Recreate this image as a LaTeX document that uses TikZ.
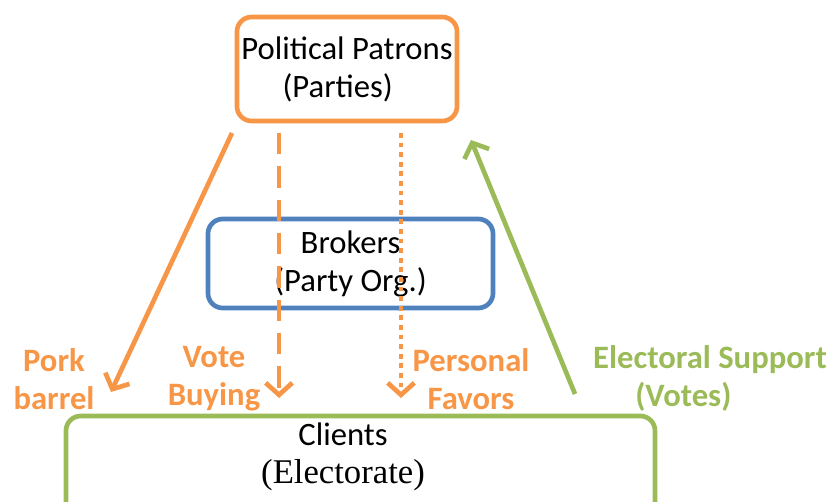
\documentclass[tikz,border=0pt]{standalone}
\usepackage{fontspec}
\setmainfont{Carlito}
\newfontfamily\serifcl{Liberation Serif}
\usetikzlibrary{arrows.meta}
\definecolor{orng}{HTML}{F79646}
\definecolor{blu}{HTML}{4F81BD}
\definecolor{grn}{HTML}{9BBB59}
\tikzset{
  box/.style={draw, line width=3.5pt, rounded corners=11pt, fill=none},
  boxtext/.style={align=center, font=\fontsize{24.5}{28.5}\selectfont, text=black},
  lbl/.style={align=center, font=\fontsize{24.5}{28.5}\selectfont\bfseries},
  arr/.style={line width=3.5pt, -{Straight Barb[length=9pt,width=20pt,line width=3.5pt]}},
}
\begin{document}
\begin{tikzpicture}[x=0.75pt,y=-0.75pt]
\useasboundingbox (0,0) rectangle (832,502);
\clip (0,0) rectangle (832,502);
% boxes
\node[box, draw=orng, minimum width=165pt, minimum height=78pt, boxtext] (patrons) at (347,69) {Political Patrons\\(Parties)\hspace*{14pt}};
\node[box, draw=blu, minimum width=213.75pt, minimum height=66.75pt, boxtext] (brokers) at (350.5,263.5) {Brokers\\(Party Org.)};
\node[box, draw=grn, minimum width=441.75pt, minimum height=108pt] (clients) at (360.5,488) {};
\node[boxtext] (clientstext) at (343,457) {Clients\\{\fontsize{26}{28.5}\selectfont\serifcl(Electorate)}};
% coordinates
\coordinate (pbS) at (232,133);
\coordinate (pbE) at (111,392);
\coordinate (vbS) at (279,133);
\coordinate (vbE) at (279,398);
\coordinate (pfS) at (401,133);
\coordinate (pfE) at (401,398);
\coordinate (esS) at (575,394);
\coordinate (esE) at (471,140);
% arrows
\draw[arr, draw=orng] (pbS) -- (pbE);
\draw[arr, draw=orng, dash pattern=on 16pt off 9pt] (vbS) -- (vbE);
\draw[arr, draw=orng, dash pattern=on 3.6pt off 3.6pt] (pfS) -- (pfE);
\draw[arr, draw=grn] (esS) -- (esE);
% labels
\node[lbl, text=orng] (lpb) at (54,379) {Pork\\barrel};
\node[lbl, text=orng] (lvb) at (214,379) {Vote\\Buying};
\node[lbl, text=orng] (lpf) at (471,379) {Personal\\Favors};
\node[lbl, text=grn] (les) at (710,379) {Electoral Support\\(Votes)\hspace*{40pt}};
\end{tikzpicture}
\end{document}
